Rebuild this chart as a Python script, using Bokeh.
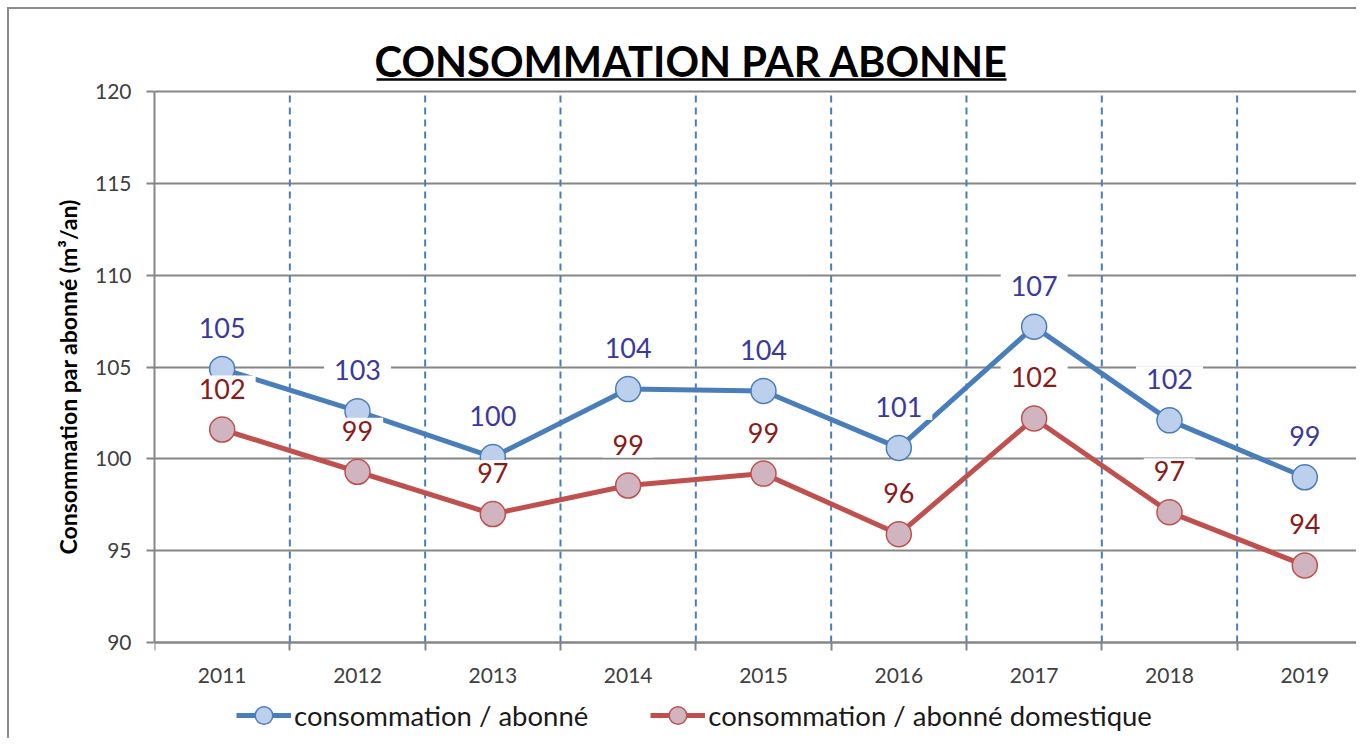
from bokeh.plotting import figure
from bokeh.models import Range1d, FixedTicker, Legend, LegendItem, Label
from bokeh.core.properties import value
from bokeh.embed import file_html
from bokeh.resources import INLINE

years = ["2011", "2012", "2013", "2014", "2015", "2016", "2017", "2018", "2019"]
conso_abonne = [104.9, 102.6, 100.1, 103.8, 103.7, 100.6, 107.2, 102.1, 99.0]
conso_domestique = [101.6, 99.3, 97.0, 98.55, 99.2, 95.9, 102.2, 97.1, 94.2]
y_ticks = [90, 95, 100, 105, 110, 115, 120]

xs = list(range(len(years)))
lbl_abonne = [f"{v:.0f}" for v in conso_abonne]
lbl_domestique = [f"{v:.0f}" for v in conso_domestique]
bounds_x = [i + 0.5 for i in range(len(years) - 1)]

FONT = "Lato"
GRID = "#868686"
BLUE = "#4a7ebb"
RED = "#c0504d"

# layout constants (pixels)
FRAME_W, FRAME_H = 1202, 729
PX_X = 135.33          # pixels per category
PX_Y = 18.37           # pixels per unit
TOP_TO_120 = 82        # pixels from frame top to the 120 line
y_top = 120 + TOP_TO_120 / PX_Y
y_bot = y_top - FRAME_H / PX_Y
x_end = -0.5 + FRAME_W / PX_X

p = figure(frame_width=FRAME_W, frame_height=FRAME_H, output_backend="svg", toolbar_location=None,
           x_range=Range1d(-0.5, x_end), y_range=Range1d(y_bot, y_top),
           min_border_left=145, min_border_top=0, min_border_bottom=0, min_border_right=0)
p.margin = (7, 0, 0, 7)
p.styles = {"border-left": "2px solid #8c8c8c", "border-top": "2px solid #8c8c8c"}
p.outline_line_color = None
p.background_fill_color = "white"
p.border_fill_color = "white"

# y axis
p.yaxis.ticker = FixedTicker(ticks=y_ticks)
p.yaxis.bounds = (y_ticks[0], y_ticks[-1])
p.yaxis.axis_line_color = GRID
p.yaxis.axis_line_width = 2
p.yaxis.major_tick_line_color = GRID
p.yaxis.major_tick_line_width = 2
p.yaxis.major_tick_out = 8
p.yaxis.major_tick_in = 0
p.yaxis.minor_tick_line_color = None
p.yaxis.major_label_text_font = FONT
p.yaxis.major_label_text_font_size = "21px"
p.yaxis.major_label_text_color = "#404040"
p.yaxis.major_label_standoff = 15
p.yaxis.axis_label = "Consommation par  abonné (m³/an)"
p.yaxis.axis_label_text_font = FONT
p.yaxis.axis_label_text_font_style = "bold"
p.yaxis.axis_label_text_font_size = "23px"
p.yaxis.axis_label_text_color = "#000000"
p.yaxis.axis_label_standoff = 10

# x axis drawn at value 90 inside the frame
p.xaxis.fixed_location = y_ticks[0]
p.xaxis.ticker = FixedTicker(ticks=xs, minor_ticks=[i - 0.5 for i in range(len(years) + 1)])
p.xaxis.major_label_overrides = {i: y for i, y in enumerate(years)}
p.xaxis.major_tick_line_color = None
p.xaxis.major_tick_out = 8
p.xaxis.minor_tick_line_color = GRID
p.xaxis.minor_tick_line_width = 2
p.xaxis.minor_tick_out = 8
p.xaxis.minor_tick_in = 0
p.xaxis.axis_line_color = GRID
p.xaxis.axis_line_width = 2
p.xaxis.major_label_text_font = FONT
p.xaxis.major_label_text_font_size = "21px"
p.xaxis.major_label_text_color = "#404040"
p.xaxis.major_label_standoff = 17

# grids
p.ygrid.ticker = FixedTicker(ticks=y_ticks)
p.ygrid.grid_line_color = GRID
p.ygrid.grid_line_width = 2
p.xgrid.visible = False
p.segment(x0=bounds_x, y0=[y_ticks[0]] * len(bounds_x), x1=bounds_x, y1=[y_ticks[-1]] * len(bounds_x),
          line_color=BLUE, line_width=2, line_dash="7 5")

# series
bl = p.line(xs, conso_abonne, line_color=BLUE, line_width=5)
bs = p.scatter(xs, conso_abonne, size=25, fill_color="#bcd0ee", line_color=BLUE, line_width=1.5)
rl = p.line(xs, conso_domestique, line_color=RED, line_width=5)
rs = p.scatter(xs, conso_domestique, size=25, fill_color="#d0b5c0", line_color=RED, line_width=1.5)

p.text(xs, conso_abonne, text=lbl_abonne, y_offset=-41, text_align="center", text_baseline="middle",
       text_font=value(FONT), text_font_size="27px", text_color="#3a3a9c",
       background_fill_color="white", padding=(10, 3))
p.text(xs, conso_domestique, text=lbl_domestique, y_offset=-41, text_align="center", text_baseline="middle",
       text_font=value(FONT), text_font_size="27px", text_color="#8b1a1a",
       background_fill_color="white", padding=(10, 3))

# title (inside the frame, above the plot area)
def px_to_x(px):
    return -0.5 + (px - 155) / PX_X

def py_to_y(py):
    return 120 - (py - 92) / PX_Y

title = Label(x=px_to_x(692), y=py_to_y(61), text="CONSOMMATION PAR ABONNE", text_font=FONT,
              text_font_style="bold", text_font_size="41.6px", text_align="center",
              text_baseline="middle", text_color="black")
p.add_layout(title)
p.segment(x0=[px_to_x(377)], y0=[py_to_y(80)], x1=[px_to_x(1007)], y1=[py_to_y(80)],
          line_color="black", line_width=2.5)

legend = Legend(items=[LegendItem(label="consommation / abonné", renderers=[bl, bs]),
                       LegendItem(label="consommation / abonné domestique", renderers=[rl, rs])],
                orientation="horizontal", location=(82, 1))
legend.label_text_font = FONT
legend.label_text_font_size = "27.5px"
legend.label_text_color = "#1a1a1a"
legend.glyph_width = 55
legend.glyph_height = 44
legend.label_standoff = 3
legend.spacing = 62
legend.border_line_color = None
legend.background_fill_alpha = 0
legend.padding = 0
legend.margin = 0
p.add_layout(legend, "center")

open("out.html", "w").write(file_html(p, INLINE))
